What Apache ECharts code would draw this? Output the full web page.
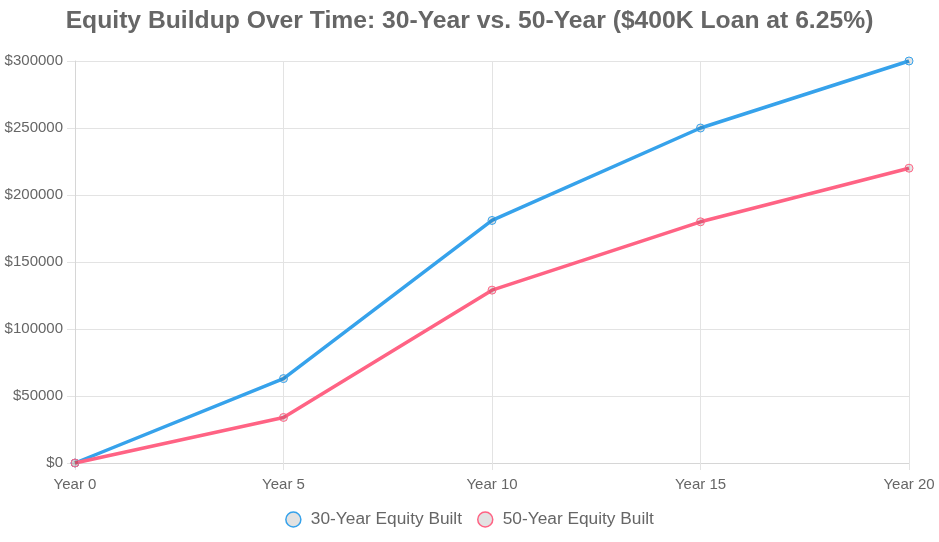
<!DOCTYPE html>
<html>
<head>
<meta charset="utf-8">
<script src="https://cdn.jsdelivr.net/npm/echarts@6/dist/echarts.min.js"></script>
<style>
  html, body { margin: 0; padding: 0; background: #fff; }
  #main { width: 939px; height: 542px; }
</style>
</head>
<body>
<div id="main"></div>
<script>
var years = ["Year 0", "Year 5", "Year 10", "Year 15", "Year 20"];
var equity30 = [0, 63000, 181000, 250000, 300000];
var equity50 = [0, 34000, 129000, 180000, 220000];
var seriesNames = ["30-Year Equity Built", "50-Year Equity Built"];
var chartTitle = "Equity Buildup Over Time: 30-Year vs. 50-Year ($400K Loan at 6.25%)";

var blue = "#36A2EB";
var pink = "#FF6384";
var textColor = "#666";
var font = "Liberation Sans, Arial, Helvetica, sans-serif";

var myChart = echarts.init(document.getElementById("main"));

function lineSeries(name, data, color) {
  return {
    name: name,
    type: "line",
    data: data,
    symbol: "circle",
    symbolSize: 8,
    showSymbol: true,
    lineStyle: { color: color, width: 3.5 },
    itemStyle: { color: "rgba(0,0,0,0.1)", borderColor: color, borderWidth: 1 },
    emphasis: { disabled: true }
  };
}

myChart.setOption({
  animation: false,
  textStyle: { fontFamily: font },
  title: {
    text: chartTitle,
    left: "center",
    top: 4,
    textStyle: { color: textColor, fontSize: 24.7, fontWeight: "bold", fontFamily: font }
  },
  legend: {
    bottom: 9,
    left: "center",
    icon: "circle",
    itemWidth: 15,
    itemHeight: 15,
    itemGap: 15,
    textStyle: { color: textColor, fontSize: 17.3, fontFamily: font, padding: [0, 0, 0, 5] },
    data: [
      { name: seriesNames[0], itemStyle: { color: "#e2e2e2", borderColor: blue, borderWidth: 1.5 } },
      { name: seriesNames[1], itemStyle: { color: "#e2e2e2", borderColor: pink, borderWidth: 1.5 } }
    ]
  },
  grid: { left: 75, right: 30, top: 61, bottom: 79 },
  xAxis: {
    type: "category",
    data: years,
    boundaryGap: false,
    axisLine: { lineStyle: { color: "#d6d6d6" } },
    axisTick: { show: true, length: 7, lineStyle: { color: "#e3e3e3" } },
    axisLabel: { color: textColor, fontSize: 15, margin: 14, fontFamily: font },
    splitLine: { show: true, lineStyle: { color: "#e3e3e3" } }
  },
  yAxis: {
    type: "value",
    min: 0,
    max: 300000,
    interval: 50000,
    axisLine: { show: true, lineStyle: { color: "#d6d6d6" } },
    axisTick: { show: true, length: 8, lineStyle: { color: "#e3e3e3" } },
    axisLabel: {
      color: textColor,
      fontSize: 15,
      margin: 12,
      fontFamily: font,
      formatter: function (v) { return "$" + v; }
    },
    splitLine: { show: true, lineStyle: { color: "#e3e3e3" } }
  },
  series: [
    lineSeries(seriesNames[0], equity30, blue),
    lineSeries(seriesNames[1], equity50, pink)
  ]
});
</script>
</body>
</html>
